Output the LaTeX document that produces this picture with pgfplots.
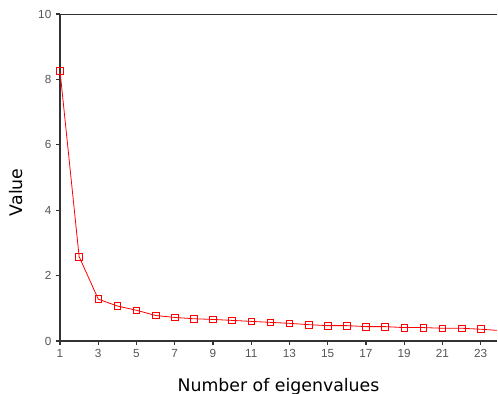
\documentclass[border=0pt]{standalone}
\usepackage{pgfplots}
\pgfplotsset{compat=1.18}
\usepackage{fontspec}
\setmainfont{Liberation Sans}
\newfontfamily\labfont{DejaVu Sans}
\definecolor{axgray}{HTML}{333333}
\definecolor{tickgray}{HTML}{555555}
\begin{document}
\begin{tikzpicture}
\begin{axis}[
  name=ax,
  scale only axis,
  width=327.75pt, height=245.25pt,
  xmin=1, xmax=23.85, ymin=0, ymax=10,
  axis y line*=left, axis x line*=bottom,
  axis line style={axgray, line width=1.6pt, -},
  xtick={1,3,...,23}, ytick={0,2,...,10},
  tick style={axgray, line width=0.8pt},
  major tick length=3pt,
  tick align=outside,
  tick label style={font=\fontsize{8.8}{10}\selectfont, text=tickgray},
  /pgf/number format/assume math mode=true,
  xlabel={Number of eigenvalues},
  ylabel={Value},
  label style={font=\labfont\fontsize{13}{15}\selectfont},
  xlabel style={yshift=-8pt},
  ylabel style={at={(ticklabel cs:0.455)}, yshift=4.5pt},
]
\addplot[red, line width=0.6pt, mark=square, mark size=2.5pt, mark options={red, solid, line width=0.6pt}]
 coordinates {
 (1,8.26) (2,2.58) (3,1.28) (4,1.07) (5,0.94) (6,0.78) (7,0.72) (8,0.68)
 (9,0.66) (10,0.63) (11,0.60) (12,0.57) (13,0.54) (14,0.50) (15,0.47) (16,0.47)
 (17,0.44) (18,0.44) (19,0.41) (20,0.41) (21,0.39) (22,0.39) (23,0.36) (24,0.32)
 };
\draw[axgray, line width=1.6pt] (rel axis cs:0,1) -- (rel axis cs:1,1);
\end{axis}
\pgfresetboundingbox
\path ([shift={(-45pt,-39.75pt)}]ax.south west) rectangle ([shift={(0.75pt,10.5pt)}]ax.north east);
\end{tikzpicture}
\end{document}
